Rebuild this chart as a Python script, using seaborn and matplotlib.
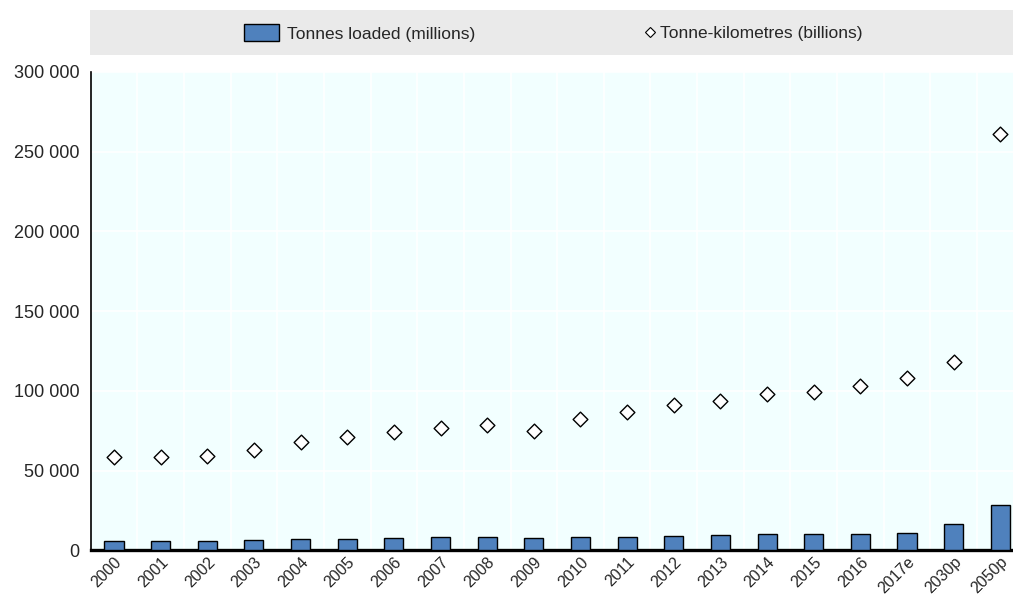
import pandas as pd
import matplotlib.pyplot as plt
import seaborn as sns
from matplotlib.patches import Rectangle
from matplotlib.lines import Line2D
from matplotlib.ticker import FuncFormatter, MultipleLocator

years = ['2000', '2001', '2002', '2003', '2004', '2005', '2006', '2007', '2008', '2009',
         '2010', '2011', '2012', '2013', '2014', '2015', '2016', '2017e', '2030p', '2050p']
tonnes = [5800, 5800, 5900, 6200, 7000, 7200, 7600, 8100, 8300, 7700,
          8300, 8500, 9000, 9300, 9900, 9900, 10300, 10600, 16300, 28600]
tonne_km = [58400, 58400, 59000, 62700, 67700, 70800, 73900, 76400, 78300, 74800,
            82600, 87000, 90900, 93800, 97700, 99000, 102700, 107900, 117800, 260800]

df = pd.DataFrame({'year': years, 'tonnes': tonnes, 'tkm': tonne_km})

sns.set_style('white')
plt.rcParams['font.family'] = ['Liberation Sans Narrow', 'Liberation Sans', 'DejaVu Sans']
plt.rcParams['font.size'] = 13

bar_color = '#4F81BD'

fig = plt.figure(figsize=(10.13, 6), dpi=100)
ax = fig.add_axes([0.0895, 0.083, 0.921, 0.797])
ax.set_facecolor('#F2FFFF')

sns.barplot(data=df, x='year', y='tonnes', color=bar_color, width=0.41,
            edgecolor='black', linewidth=1, saturation=1, ax=ax, zorder=3)
sns.stripplot(data=df, x='year', y='tkm', jitter=False, marker='D', size=7.5,
              color='white', edgecolor='black', linewidth=1, ax=ax, zorder=4)

ax.set_ylim(0, 300000)
ax.set_xlim(-0.5, len(years) - 0.5)
ax.yaxis.set_major_locator(MultipleLocator(50000))
ax.yaxis.set_major_formatter(FuncFormatter(lambda v, p: f'{int(v):,}'.replace(',', ' ')))
ax.set_xticks(range(len(years)))
ax.set_xticklabels(years, rotation=45, ha='right', rotation_mode='anchor', fontsize=11.5)
ax.set_xticks([i + 0.5 for i in range(len(years) - 1)], minor=True)
ax.tick_params(axis='x', which='major', length=0, pad=3)
ax.tick_params(axis='x', which='minor', direction='in', length=5, width=1.5, color='black')
ax.tick_params(axis='y', direction='in', length=4, width=1, color='black', pad=8)
ax.grid(axis='y', color='white', linewidth=1.2, zorder=0)
ax.grid(axis='x', which='minor', color='white', linewidth=1.2, zorder=0)
ax.set_axisbelow(True)
ax.set_xlabel('')
ax.set_ylabel('')
for s in ['top', 'right']:
    ax.spines[s].set_visible(False)
ax.spines['left'].set_linewidth(1.2)
ax.spines['bottom'].set_linewidth(2.4)
ax.spines['left'].set_color('black')
ax.spines['bottom'].set_color('black')

# legend band
fig.patches.append(Rectangle((0.089, 0.908), 0.911, 0.075, transform=fig.transFigure,
                             facecolor='#EAEAEA', edgecolor='none', zorder=0))
bar_handle = Rectangle((0, 0), 1, 1, facecolor=bar_color, edgecolor='black', linewidth=1)
dia_handle = Line2D([], [], linestyle='none', marker='D', markersize=5.5,
                    markerfacecolor='white', markeredgecolor='black', markeredgewidth=0.8)
leg1 = fig.legend([bar_handle], ['Tonnes loaded (millions)'], loc='center left',
                  bbox_to_anchor=(0.234, 0.945), frameon=False, handlelength=2.0,
                  handleheight=1.1, handletextpad=0.5, fontsize=12.5, borderaxespad=0)
leg2 = fig.legend([dia_handle], ['Tonne-kilometres (billions)'], loc='center left',
                  bbox_to_anchor=(0.628, 0.945), frameon=False, handlelength=0.8,
                  handletextpad=0.2, fontsize=12.5, borderaxespad=0)

fig.savefig('out.png', dpi=100)
